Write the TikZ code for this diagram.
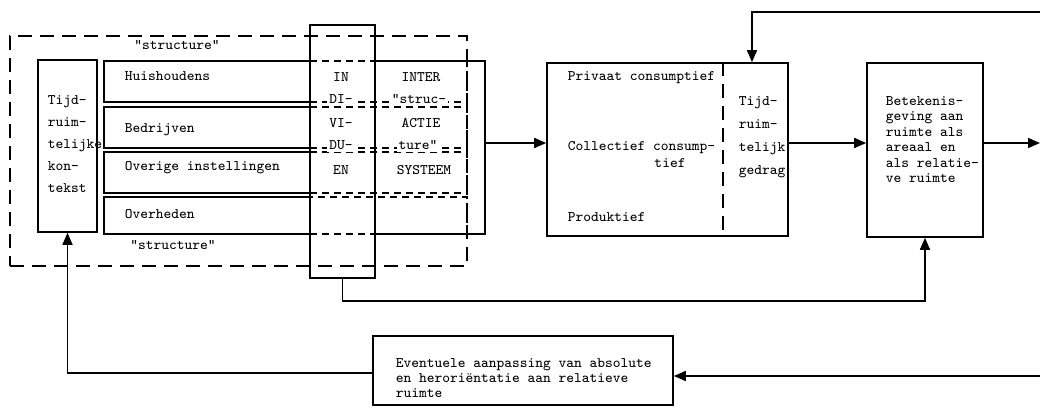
\documentclass[tikz,border=0pt]{standalone}
\usetikzlibrary{arrows.meta}
\begin{document}
\begin{tikzpicture}[x=0.5pt,y=-0.5pt,>={Triangle[length=6pt,width=5pt]},line width=0.8pt,
  box/.style={draw,rectangle,inner sep=0pt},
  longdash/.style={dash pattern=on 7pt off 4pt},
  shortdash/.style={dash pattern=on 3.5pt off 2.5pt},
  txt/.style={font=\fontsize{7.3}{8}\selectfont\ttfamily,inner sep=0pt},
  online/.style={fill=white,inner sep=1pt}]

\def\px{0.5pt}
\useasboundingbox (0,0) rectangle (1040,408);

% dashed "structure" frame and the dashed rows through the column
\node[box,longdash,minimum width=457*\px,minimum height=230*\px] (frame) at (238.5,151) {};
\node[box,shortdash,minimum width=157*\px,minimum height=41*\px] (d1) at (388.5,81.5) {};
\node[box,shortdash,minimum width=157*\px,minimum height=41*\px] (d2) at (388.5,127.5) {};
\node[box,shortdash,minimum width=157*\px,minimum height=41*\px] (d3) at (388.5,172.5) {};
\node[box,shortdash,minimum width=157*\px,minimum height=37*\px] (d4) at (388.5,215.5) {};

\node[txt] (s1) at (177,45) {"structure"};
\node[txt] (s2) at (173,245) {"structure"};

% left part
\node[box,minimum width=59*\px,minimum height=172*\px] (tijd) at (67.5,146) {};
\node[txt,anchor=west,align=left,font=\fontsize{7.3}{11}\selectfont\ttfamily] at (47,144)
  {Tijd-\\ruim-\\telijke\\kon-\\tekst};

\node[box,minimum width=206*\px,minimum height=41*\px] (huis) at (207,81.5) {};
\node[box,minimum width=206*\px,minimum height=41*\px] (bedr) at (207,127.5) {};
\node[box,minimum width=206*\px,minimum height=41*\px] (over) at (207,172.5) {};
\node[box,minimum width=206*\px,minimum height=37*\px] (overh) at (207,215.5) {};

\node[txt,anchor=west] at (124,76) {Huishoudens};
\node[txt,anchor=west] at (124,130) {Bedrijven};
\node[txt,anchor=west] at (124,168) {Overige instellingen};
\node[txt,anchor=west] at (124,214) {Overheden};

% individuen column and interactie system
\node[box,minimum width=65*\px,minimum height=253*\px] (col) at (342.5,151.5) {};
\node[box,minimum width=110*\px,minimum height=173*\px] (inter) at (430,147.5) {};

\node[txt] at (341,77) {IN};
\node[txt,online] at (341,99) {DI-};
\node[txt] at (341,123) {VI-};
\node[txt,online] at (341,145) {DU-};
\node[txt] at (341,170) {EN};

\node[txt] at (421,77) {INTER};
\node[txt,online] at (419,99) {"struc-};
\node[txt] at (421,123) {ACTIE};
\node[txt,online] at (418,145) {ture"};
\node[txt] at (424,170) {SYSTEEM};

% gedrag
\node[box,minimum width=241*\px,minimum height=173*\px] (mid) at (667.5,149.5) {};
\coordinate (div) at (723,0);
\draw[longdash] (mid.north -| div) -- (mid.south -| div);

\node[txt,anchor=west] at (567,78) {Privaat consumptief};
\node[txt,anchor=west] at (567,148) {Collectief consump-};
\node[txt] at (670,163) {tief};
\node[txt,anchor=west] at (567,217) {Produktief};
\node[txt,anchor=west,align=left,font=\fontsize{7.3}{11.5}\selectfont\ttfamily] at (738,137)
  {Tijd-\\ruim-\\telijk\\gedrag};

% betekenisgeving
\node[box,minimum width=116*\px,minimum height=174*\px] (bet) at (925,150) {};
\node[txt,anchor=west,align=left,font=\fontsize{7.3}{7.7}\selectfont\ttfamily] at (885,139.5)
  {Betekenis-\\geving aan\\ruimte als\\areaal en\\als relatie-\\ve ruimte};

% aanpassing
\node[box,minimum width=300*\px,minimum height=69*\px] (aanp) at (523,370.5) {};
\node[txt,anchor=west,align=left,font=\fontsize{7.3}{7.5}\selectfont\ttfamily] at (395,378)
  {Eventuele aanpassing van absolute\\en heroriëntatie aan relatieve\\ruimte};

% connectors
\coordinate (lev) at (0,143);
\coordinate (outR) at (1040,143);
\coordinate (topR) at (1040,12);
\coordinate (fb) at (752,0);
\coordinate (inR) at (1040,376);
\coordinate (back) at (0,373);

\draw[->] (inter.east |- lev) -- (mid.west |- lev);
\draw[->] (mid.east |- lev) -- (bet.west |- lev);
\draw[->] (bet.east |- lev) -- (outR);
\draw[->] (topR) -| (mid.north -| fb);
\draw[->] (col.south) -- ++(0,22) -| (bet.south);
\draw[->] (inR) -- (aanp.east |- inR);
\draw[->] (aanp.west |- back) -| (tijd.south);

\end{tikzpicture}
\end{document}
